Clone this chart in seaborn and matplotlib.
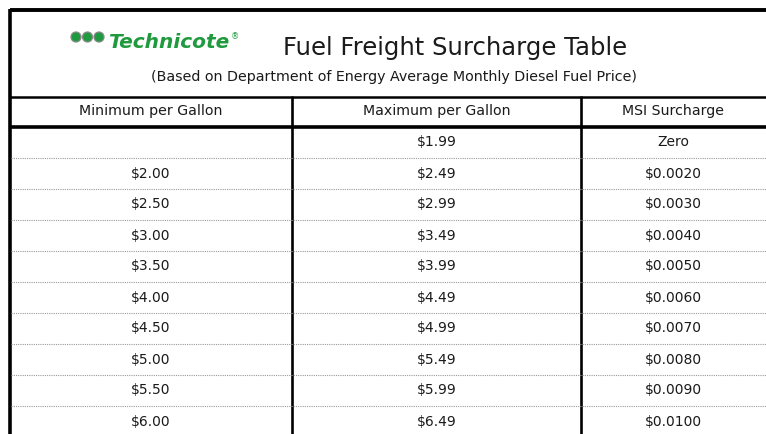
import numpy as np
import matplotlib.pyplot as plt
import seaborn as sns
from matplotlib.colors import ListedColormap
from matplotlib.patches import Circle

# table contents
min_per_gallon = ["", "$2.00", "$2.50", "$3.00", "$3.50", "$4.00", "$4.50", "$5.00", "$5.50", "$6.00"]
max_per_gallon = ["$1.99", "$2.49", "$2.99", "$3.49", "$3.99", "$4.49", "$4.99", "$5.49", "$5.99", "$6.49"]
msi_surcharge = ["Zero", "$0.0020", "$0.0030", "$0.0040", "$0.0050", "$0.0060",
                 "$0.0070", "$0.0080", "$0.0090", "$0.0100"]
column_headers = ["Minimum per Gallon", "Maximum per Gallon", "MSI Surcharge"]
title = "Fuel Freight Surcharge Table"
subtitle = "(Based on Department of Energy Average Monthly Diesel Fuel Price)"
brand = "Technicote"

sns.set_theme(style="white")
plt.rcParams['font.family'] = ['DejaVu Sans']

W, H = 766, 434
fig = plt.figure(figsize=(W / 100, H / 100), dpi=100)

col_edges = [10, 292, 581, 766]
body_top, row_h = 127, 31
n_rows = len(max_per_gallon)
text_col = "#1a1a1a"

# one single-column heatmap per table column, all cells white, values as annotations
for i, values in enumerate([min_per_gallon, max_per_gallon, msi_surcharge]):
    x0, x1 = col_edges[i], col_edges[i + 1]
    ax = fig.add_axes([x0 / W, 1 - (body_top + n_rows * row_h) / H,
                       (x1 - x0) / W, n_rows * row_h / H])
    sns.heatmap(np.zeros((n_rows, 1)), annot=np.array(values).reshape(-1, 1), fmt="",
                cmap=ListedColormap(["white"]), cbar=False, ax=ax,
                annot_kws={"fontsize": 10, "color": text_col})
    ax.set_axis_off()

# overlay in pixel coordinates for rules, headers and title block
ov = fig.add_axes([0, 0, 1, 1], zorder=10)
ov.set_xlim(0, W)
ov.set_ylim(H, 0)
ov.patch.set_alpha(0)
ov.set_axis_off()

ov.plot([10, W], [10, 10], color="black", lw=2.8, solid_capstyle="butt")
ov.plot([10, 10], [8.5, H], color="black", lw=2.6, solid_capstyle="butt")
ov.plot([10, W], [96.5, 96.5], color="black", lw=1.8, solid_capstyle="butt")
ov.plot([10, W], [127, 127], color="black", lw=2.6, solid_capstyle="butt")
for xc in col_edges[1:3]:
    ov.plot([xc, xc], [96, H], color="black", lw=1.9, solid_capstyle="butt")
for k in range(1, n_rows):
    y = body_top + k * row_h
    ov.plot([11, W], [y, y], color="#9a9a9a", lw=0.8, linestyle=(0, (1, 1)))

for i, lab in enumerate(column_headers):
    xc = (col_edges[i] + col_edges[i + 1]) / 2
    ov.text(xc, 111, lab, ha="center", va="center", fontsize=10.2, color=text_col)

ov.text(455, 48, title, ha="center", va="center", fontsize=17.5, color=text_col)
ov.text(394, 77, subtitle, ha="center", va="center", fontsize=10.3, color=text_col)

# logo
green = "#1f9a3e"
for cx in [76, 87.5, 99]:
    ov.add_patch(Circle((cx, 37), 5, facecolor=green, edgecolor="#8a8a8a", lw=0.9))
ov.text(108, 43, brand, ha="left", va="center", fontsize=14.5, color=green,
        fontweight="bold", fontstyle="italic")
ov.text(231, 37, "\u00ae", ha="left", va="center", fontsize=6, color=green)

fig.savefig("out.png", dpi=100)
